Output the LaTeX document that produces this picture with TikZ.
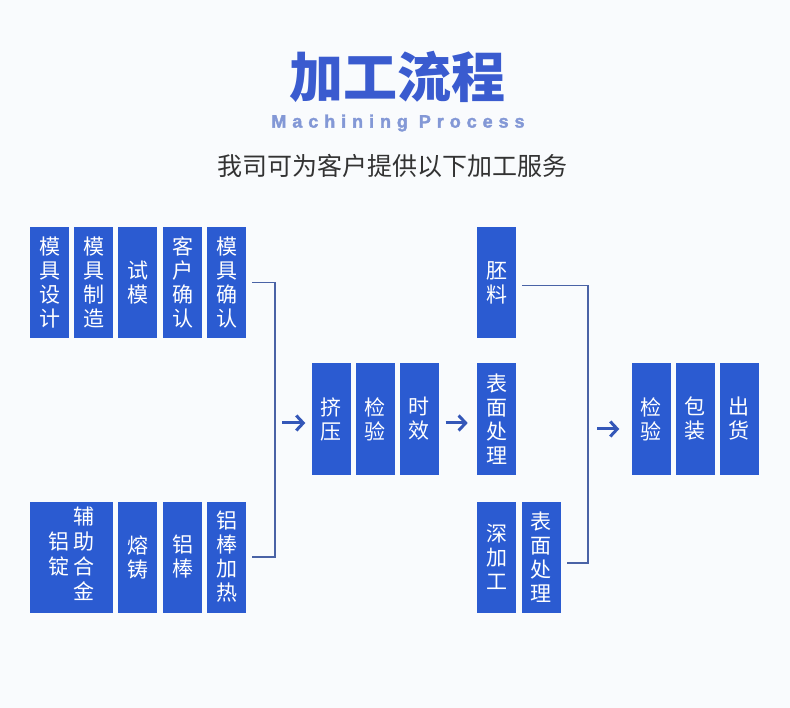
\documentclass[tikz,border=0pt]{standalone}
\usepackage{fontspec}
\usetikzlibrary{arrows.meta}
\newfontfamily\cjk{Noto Sans CJK SC}
\newfontfamily\enspaced[LetterSpace=33,BoldFeatures={FakeBold=2}]{Liberation Sans}
\definecolor{boxblue}{HTML}{2B5BD1}
\definecolor{titleblue}{HTML}{3A5BCF}
\definecolor{subblue}{HTML}{8398D6}
\definecolor{linegray}{HTML}{4A63A6}
\definecolor{arrowblue}{HTML}{3457B8}
\definecolor{bgtint}{HTML}{F9FBFD}
\tikzset{
  cardbase/.style={fill=boxblue, text=white, minimum width=39pt, minimum height=111pt,
    inner sep=0pt, font=\cjk\fontsize{21}{24}\selectfont},
  card/.style={cardbase, align=center},
  link/.style={draw=linegray, line width=1.2pt},
  flow/.style={draw=arrowblue, line width=3pt, -{Straight Barb[length=7pt,width=15pt]}},
}
\begin{document}
\begin{tikzpicture}[x=1pt,y=-1pt]
\fill[bgtint] (0,0) rectangle (790,708);

\node (title) at (397,77) {\cjk\fontsize{54}{60}\selectfont\bfseries\color{titleblue}加工流程};
\node (entitle) at (398,123) {\enspaced\fontsize{18}{20}\selectfont\bfseries\color{subblue}Machining Process};
\node (intro) at (392,166) {\cjk\fontsize{25}{28}\selectfont\color{black!80}我司可为客户提供以下加工服务};

\node[card] (mjsj) at (49.5,282.5) {模\\具\\设\\计};
\node[card] (mjzz) at (93.5,282.5) {模\\具\\制\\造};
\node[card] (sm) at (137.5,282.5) {试\\模};
\node[card] (khqr) at (182.5,282.5) {客\\户\\确\\认};
\node[card] (mjqr) at (226.5,282.5) {模\\具\\确\\认};

\node[cardbase, minimum width=83pt] (fzlr) at (71.5,557)
  {\begin{tabular}{@{}c@{\hspace{4pt}}c@{}} & 辅\\ 铝 & 助\\ 锭 & 合\\ & 金\end{tabular}};
\node[card] (zz) at (137.5,557) {熔\\铸};
\node[card] (lb) at (182.5,557) {铝\\棒};
\node[card] (lbjr) at (226.5,557) {铝\\棒\\加\\热};

\coordinate (lbus) at (275,419);
\draw[link] ([xshift=6pt]mjqr.east) -- (mjqr.east -| lbus) -- (lbjr.east -| lbus) -- ([xshift=6pt]lbjr.east);

\node[card] (jy) at (331,419) {挤\\压};
\node[card] (jianyan) at (375,419) {检\\验};
\node[card] (sx) at (419,419) {时\\效};
\draw[flow] ([xshift=-29pt,yshift=-4pt]jy.west) -- ([xshift=-6pt,yshift=-4pt]jy.west);
\draw[flow] ([xshift=7pt,yshift=-4pt]sx.east) -- ([xshift=29pt,yshift=-4pt]sx.east);

\node[card] (pl) at (496.5,282.5) {胚\\料};
\node[card] (bmcl) at (496.5,419) {表\\面\\处\\理};
\node[card] (sjg) at (496.5,557) {深\\加\\工};
\node[card] (bmcltwo) at (541,557) {表\\面\\处\\理};

\coordinate (rbus) at (588,419);
\draw[link] ([xshift=6pt,yshift=-3pt]pl.east) -- ([yshift=-3pt]pl.east -| rbus)
  -- ([yshift=-6pt]bmcltwo.east -| rbus) -- ([xshift=6pt,yshift=-6pt]bmcltwo.east);

\node[card] (jytwo) at (651,419) {检\\验};
\node[card] (bz) at (695,419) {包\\装};
\node[card] (ch) at (739,419) {出\\货};
\draw[flow] ([xshift=-34pt,yshift=-10pt]jytwo.west) -- ([xshift=-12pt,yshift=-10pt]jytwo.west);
\end{tikzpicture}
\end{document}
